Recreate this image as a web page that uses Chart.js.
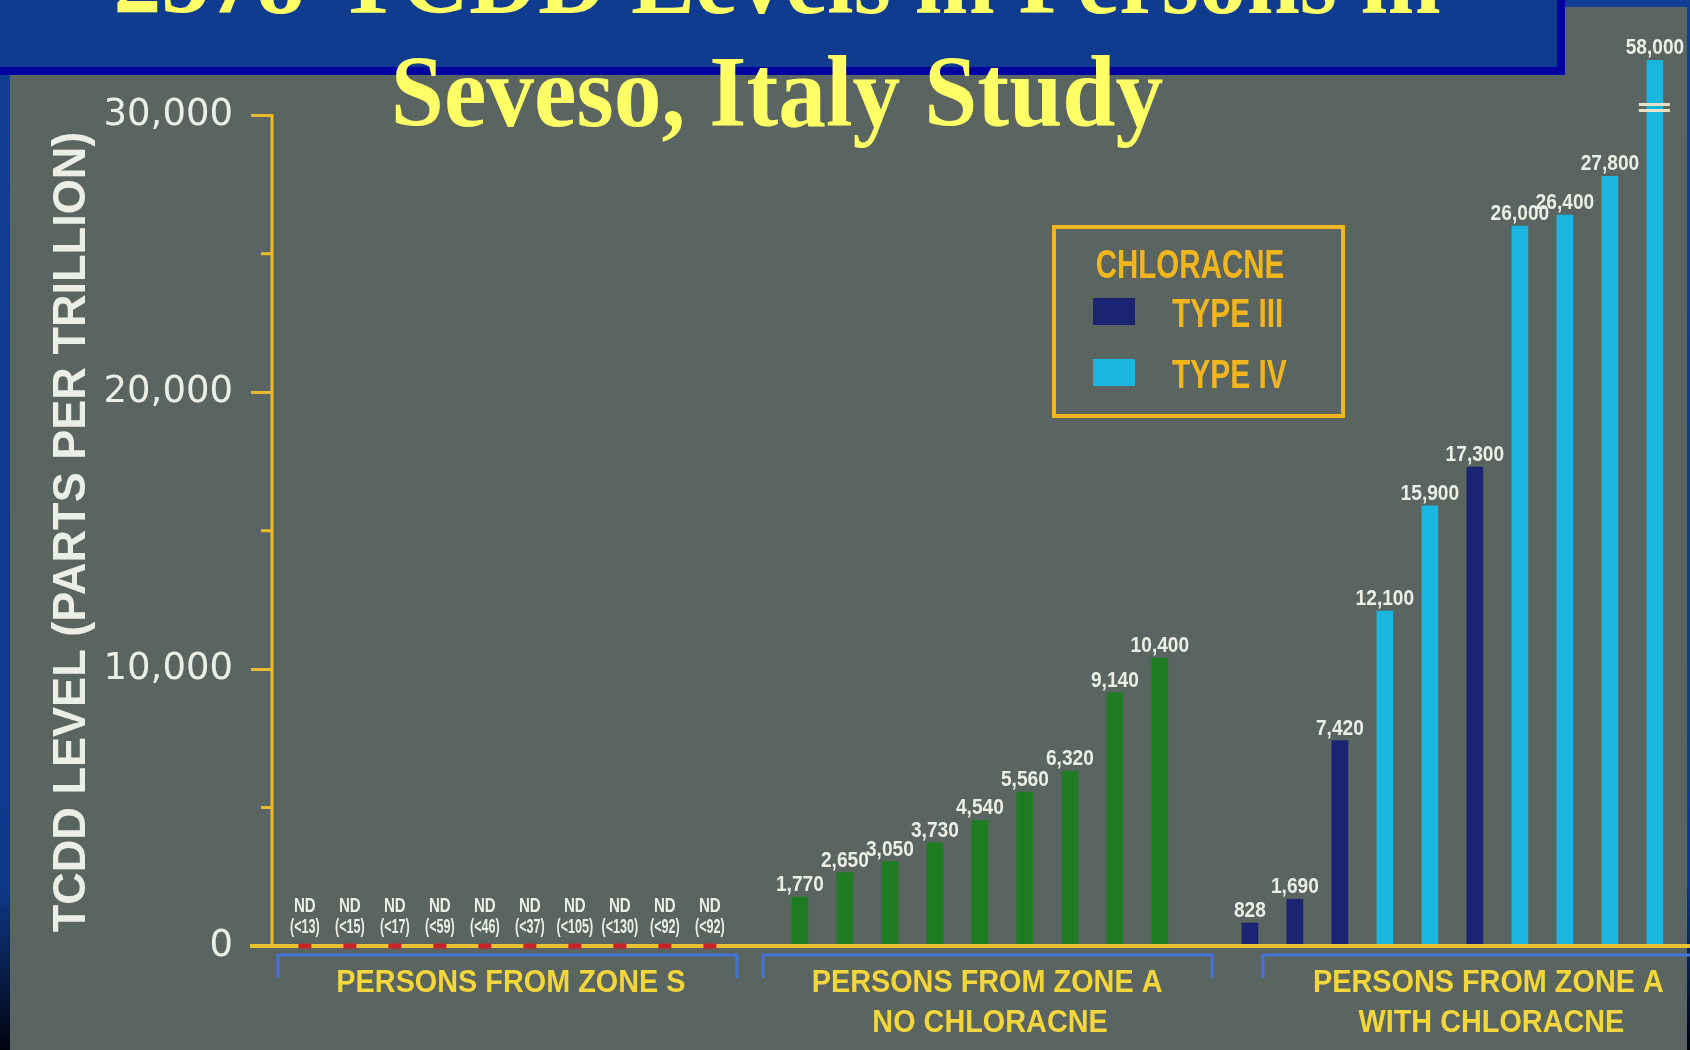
<!DOCTYPE html>
<html lang="en">
<head>
<meta charset="utf-8">
<title>2378-TCDD Levels in Persons in Seveso, Italy Study</title>
<script src="https://cdn.jsdelivr.net/npm/chart.js@4.4.1/dist/chart.umd.min.js"></script>
<style>
  html, body { margin: 0; padding: 0; background: #103c90; overflow: hidden; }
  .wrap { position: relative; width: 1690px; height: 1050px; }
</style>
</head>
<body>
<div class="wrap"><canvas id="tcddChart"></canvas></div>
<script>
// Zone S: nothing detected, detection limit (ppt) shown in parentheses
const zoneSLimits = [13, 15, 17, 59, 46, 37, 105, 130, 92, 92];
// Zone A, no chloracne (ppt)
const noChloracneLevels = [1770, 2650, 3050, 3730, 4540, 5560, 6320, 9140, 10400];
// Zone A with chloracne (ppt) and type of chloracne
const chloracneLevels = [828, 1690, 7420, 12100, 15900, 17300, 26000, 26400, 27800, 58000];
const chloracneTypes = ['III', 'III', 'III', 'IV', 'IV', 'III', 'IV', 'IV', 'IV', 'IV'];

// tick marks every 5,000, labels every 10,000
const yTickValues = [0, 5000, 10000, 15000, 20000, 25000, 30000];
const yLabelStep = 10000;
const groupTitles = [
    ['PERSONS FROM ZONE S'],
    ['PERSONS FROM ZONE A', 'NO CHLORACNE'],
    ['PERSONS FROM ZONE A', 'WITH CHLORACNE']
];
const titleLines = ['2378-TCDD Levels in Persons in', 'Seveso, Italy Study'];

const SLIDE_GREY = '#5a6561';
const AXIS_YELLOW = '#e7bb2c';
const BASE_YELLOW = '#e9c233';
const LABEL_YELLOW = '#f3d63c';
const LEGEND_ORANGE = '#f1b51d';
const BRACKET_BLUE = '#4572d6';
const TEXT_WHITE = '#eaeee4';

// one empty slot between the groups
const aStart = zoneSLimits.length + 1;
const cStart = aStart + noChloracneLevels.length + 1;
const lastSlot = cStart + chloracneLevels.length - 1;

const ndPoints = zoneSLimits.map((lim, i) => ({ x: i, y: 0 }));
const noChloracnePoints = noChloracneLevels.map((v, i) => ({ x: aStart + i, y: v }));
const type3Points = [];
const type4Points = [];
chloracneLevels.forEach((v, i) => {
    const p = { x: cStart + i, y: v };
    (chloracneTypes[i] === 'III' ? type3Points : type4Points).push(p);
});

// bracket extent and caption centre for each group, in slot units
const groupLayout = [
    { from: -0.6, to: 9.6, center: 4.58 },
    { from: 10.18, to: 20.16, center: 15.16 },
    { from: 21.29, to: null, center: 26.3 }
];

function scaledText(ctx, text, x, y, sx, align) {
    ctx.save();
    ctx.translate(x, y);
    ctx.scale(sx, 1);
    ctx.textAlign = align || 'center';
    ctx.fillText(text, 0, 0);
    ctx.restore();
}

const fmt = (v) => Number(v).toLocaleString('en-US');
const isLabelled = (v) => Number(v) % yLabelStep === 0;

const slideFrame = {
    id: 'slideFrame',
    beforeDraw(chart) {
        const { ctx, width, height } = chart;
        ctx.save();
        const edge = ctx.createLinearGradient(0, 0, 0, height);
        edge.addColorStop(0, '#113d93');
        edge.addColorStop(0.84, '#0f3a8c');
        edge.addColorStop(1, '#01040f');
        ctx.fillStyle = edge;
        ctx.fillRect(0, 0, width, height);
        ctx.fillStyle = SLIDE_GREY;
        ctx.fillRect(10, 7, width - 13, height - 7);
        // title banner
        ctx.fillStyle = '#0000a0';
        ctx.fillRect(0, 0, 1565, 75);
        ctx.fillStyle = '#0f3c8f';
        ctx.fillRect(0, 0, 1557, 67);
        ctx.restore();
    },
    beforeDatasetDraw(chart, args) {
        // axis lines go under the ND markers but over the bars
        if (args.index !== 0) return;
        const { ctx, chartArea } = chart;
        const y = chart.scales.y;
        const y0 = y.getPixelForValue(0);
        const yTop = y.getPixelForValue(yTickValues[yTickValues.length - 1]);
        ctx.save();
        ctx.strokeStyle = AXIS_YELLOW;
        ctx.lineWidth = 3;
        ctx.beginPath();
        ctx.moveTo(chartArea.left, yTop - 1.5);
        ctx.lineTo(chartArea.left, y0);
        yTickValues.filter(v => !isLabelled(v)).forEach(v => {
            const py = y.getPixelForValue(v);
            ctx.moveTo(chartArea.left - 11, py);
            ctx.lineTo(chartArea.left, py);
        });
        ctx.stroke();
        ctx.strokeStyle = BASE_YELLOW;
        ctx.lineWidth = 4;
        ctx.beginPath();
        ctx.moveTo(chartArea.left - 22, y0);
        ctx.lineTo(chart.width, y0);
        ctx.stroke();
        ctx.restore();
    },
    afterDatasetsDraw(chart) {
        const { ctx, chartArea } = chart;
        const x = chart.scales.x;
        const y = chart.scales.y;
        const y0 = y.getPixelForValue(0);
        ctx.save();
        ctx.fillStyle = TEXT_WHITE;
        ctx.textBaseline = 'alphabetic';

        // ND labels over zone S
        ctx.font = 'bold 21px "Liberation Sans", Arial, sans-serif';
        chart.getDatasetMeta(0).data.forEach((pt, i) => {
            scaledText(ctx, 'ND', pt.x, y0 - 34, 0.72);
            scaledText(ctx, '(<' + zoneSLimits[i] + ')', pt.x, y0 - 13, 0.6);
        });

        // values above bars, break mark on bars taller than the axis
        ctx.font = 'bold 22px "Liberation Sans", Arial, sans-serif';
        [1, 2, 3].forEach(di => {
            const data = chart.data.datasets[di].data;
            chart.getDatasetMeta(di).data.forEach((bar, i) => {
                const v = data[i].y;
                const top = Math.max(bar.y, chartArea.top);
                ctx.fillStyle = TEXT_WHITE;
                scaledText(ctx, fmt(v), bar.x, top - 6, 0.87);
                if (v > y.max) {
                    const by = y.getPixelForValue(yTickValues[yTickValues.length - 1]);
                    ctx.strokeStyle = '#e6e2c6';
                    ctx.lineWidth = 3;
                    ctx.beginPath();
                    [by - 11, by - 5].forEach(ly => {
                        ctx.moveTo(bar.x - 16, ly);
                        ctx.lineTo(bar.x + 15, ly);
                    });
                    ctx.stroke();
                }
            });
        });

        // group brackets and captions
        groupLayout.forEach((g, gi) => {
            const xa = x.getPixelForValue(g.from);
            const xb = g.to === null ? chart.width + 5 : x.getPixelForValue(g.to);
            const by = y0 + 9;
            ctx.strokeStyle = BRACKET_BLUE;
            ctx.lineWidth = 3;
            ctx.beginPath();
            ctx.moveTo(xa, by + 23);
            ctx.lineTo(xa, by);
            ctx.lineTo(xb, by);
            if (g.to !== null) ctx.lineTo(xb, by + 23);
            ctx.stroke();
            ctx.fillStyle = LABEL_YELLOW;
            ctx.font = 'bold 31px "Liberation Sans", Arial, sans-serif';
            const cx = x.getPixelForValue(g.center);
            groupTitles[gi].forEach((line, li) => {
                scaledText(ctx, line, cx + li * 3, y0 + 46 + li * 40, 0.93);
            });
        });

        // chloracne type key
        ctx.strokeStyle = LEGEND_ORANGE;
        ctx.lineWidth = 4;
        ctx.strokeRect(1054, 227, 289, 189);
        ctx.fillStyle = LEGEND_ORANGE;
        ctx.font = 'bold 41px "Liberation Sans", Arial, sans-serif';
        scaledText(ctx, 'CHLORACNE', 1190, 278, 0.72);
        [2, 3].forEach((di, k) => {
            const ds = chart.data.datasets[di];
            const top = 298 + k * 61;
            ctx.fillStyle = ds.backgroundColor;
            ctx.fillRect(1093, top, 42, 27);
            ctx.fillStyle = LEGEND_ORANGE;
            scaledText(ctx, ds.label, 1172, top + 29, 0.73, 'left');
        });

        // y axis title
        ctx.fillStyle = TEXT_WHITE;
        ctx.font = 'bold 46px "Liberation Sans", Arial, sans-serif';
        ctx.save();
        ctx.translate(85, 532);
        ctx.rotate(-Math.PI / 2);
        ctx.scale(0.98, 1);
        ctx.textAlign = 'center';
        ctx.fillText('TCDD LEVEL (PARTS PER TRILLION)', 0, 0);
        ctx.restore();
        ctx.restore();
    },
    afterDraw(chart) {
        const ctx = chart.ctx;
        ctx.save();
        ctx.fillStyle = '#ffff66';
        ctx.font = 'bold 101px "Liberation Serif", "Times New Roman", serif';
        ctx.textBaseline = 'alphabetic';
        scaledText(ctx, titleLines[0], 777, 13, 0.946);
        scaledText(ctx, titleLines[1], 777, 126, 0.946);
        ctx.restore();
    }
};

const ctx = document.getElementById('tcddChart');
new Chart(ctx, {
    type: 'bar',
    data: {
        datasets: [
            {
                type: 'line',
                label: 'ND',
                data: ndPoints,
                showLine: false,
                pointStyle: 'line',
                pointRadius: 6.5,
                pointHoverRadius: 6.5,
                pointBorderWidth: 5,
                pointBorderColor: '#c8232b',
                clip: false
            },
            {
                label: 'NO CHLORACNE',
                data: noChloracnePoints,
                backgroundColor: '#1e7c22',
                clip: 0
            },
            {
                label: 'TYPE III',
                data: type3Points,
                backgroundColor: '#1a2472',
                clip: 0
            },
            {
                label: 'TYPE IV',
                data: type4Points,
                backgroundColor: '#19b6df',
                clip: 0
            }
        ]
    },
    options: {
        responsive: true,
        maintainAspectRatio: false,
        devicePixelRatio: 1,
        animation: false,
        datasets: {
            bar: { grouped: false, barThickness: 16, borderWidth: 0 }
        },
        layout: {
            autoPadding: false,
            padding: { top: 60, bottom: 104, left: 0, right: 0 }
        },
        scales: {
            x: {
                type: 'linear',
                offset: false,
                bounds: 'data',
                min: -0.73,
                max: lastSlot + 0.78,
                display: false
            },
            y: {
                min: 0,
                max: 32000,
                afterBuildTicks: (scale) => {
                    scale.ticks = yTickValues.map(value => ({ value }));
                },
                afterFit: (scale) => { scale.width = 272; },
                border: { display: false },
                grid: {
                    drawOnChartArea: false,
                    tickLength: 21,
                    tickWidth: 3,
                    tickColor: (c) => (c.tick && isLabelled(c.tick.value)) ? AXIS_YELLOW : 'rgba(0,0,0,0)'
                },
                ticks: {
                    autoSkip: false,
                    padding: 18,
                    color: TEXT_WHITE,
                    font: { family: '"DejaVu Sans", sans-serif', size: 37 },
                    callback: (v) => isLabelled(v) ? fmt(v) : ''
                }
            }
        },
        plugins: {
            legend: { display: false },
            tooltip: { enabled: false }
        }
    },
    plugins: [slideFrame]
});
</script>
</body>
</html>
